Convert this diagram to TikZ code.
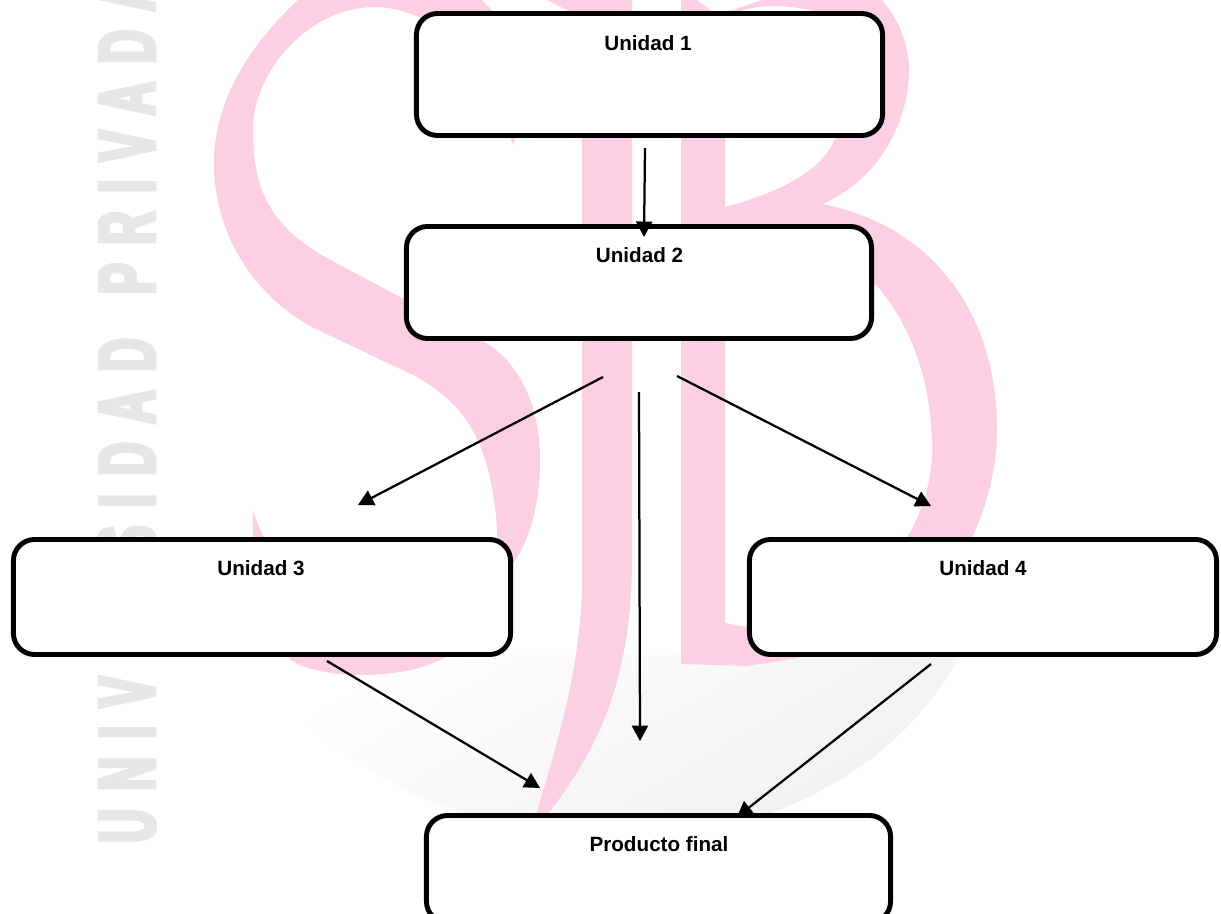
\documentclass[tikz,border=0pt]{standalone}
\usepackage{fontspec}
\setmainfont{Liberation Sans}
\newfontfamily\wmfont[LetterSpace=23,FakeStretch=0.58,FakeBold=4.5]{Liberation Sans Bold}
\usetikzlibrary{arrows.meta}
\definecolor{sjbpink}{HTML}{FDCFE3}
\definecolor{wmgrey}{HTML}{E6E7E8}
\definecolor{shadegrey}{HTML}{F0F0F1}
\tikzset{
  unidadbox/.style={draw, line width=3.5pt, rounded corners=15pt, fill=white, inner sep=0pt},
  boxlabel/.style={font=\fontsize{14.7}{16}\selectfont\bfseries, inner sep=0pt},
  flecha/.style={-{Triangle[length=11pt,width=11.5pt]}, line width=1.6pt}
}
\begin{document}
\begin{tikzpicture}[x=0.025cm, y=-0.025cm]
    \useasboundingbox (0,0) rectangle (1221,913);
    \fill[white] (0,0) rectangle (1221,913);

    % Grey shadow under the letters
    \shade[top color=white, middle color=white, bottom color=shadegrey, shading angle=30]
        (249,655) .. controls (300,740) and (450,850) .. (640,838)
        .. controls (800,830) and (910,750) .. (960,655) -- cycle;

    % S
    \fill[sjbpink] (298,0) .. controls (250,45) and (214,100) .. (214,163)
        .. controls (214,240) and (260,300) .. (314,328)
        -- (417,377) .. controls (465,405) and (490,440) .. (497,527)
        .. controls (500,600) and (480,640) .. (440,660)
        .. controls (400,680) and (320,680) .. (291,660)
        .. controls (270,620) and (250,570) .. (253,510)
        .. controls (258,525) and (262,535) .. (268,545)
        -- (330,640) -- (440,600)
        .. controls (520,600) and (540,520) .. (540,460)
        .. controls (540,400) and (515,360) .. (486,343)
        -- (325,257) .. controls (270,225) and (253,190) .. (253,130)
        .. controls (253,70) and (310,7) .. (375,7)
        .. controls (410,7) and (480,30) .. (513,145)
        -- (540,60) -- (482,0) -- cycle;

    % J
    \fill[sjbpink] (547,0) -- (582,18) -- (582,593)
        .. controls (578,680) and (555,750) .. (536,815)
        -- (547,815) .. controls (590,760) and (632,690) .. (632,560)
        -- (632,0) -- cycle;

    % B, with its two counters cut out
    \fill[sjbpink, even odd rule] (681,0) -- (697,0) -- (713,12) -- (733,10) -- (762,0) -- (882,0)
        .. controls (895,15) and (909,40) .. (909,70)
        .. controls (909,120) and (880,180) .. (822,204)
        .. controls (930,225) and (997,310) .. (997,430)
        .. controls (997,500) and (960,590) .. (900,620)
        -- (798,658) -- (747,666) -- (681,664) -- cycle
        (725,20) .. controls (740,8) and (760,6) .. (773,6)
        .. controls (810,6) and (872,20) .. (872,70)
        .. controls (872,100) and (850,130) .. (834,140)
        .. controls (825,165) and (790,190) .. (725,207) -- cycle
        (725,235) .. controls (800,235) and (850,260) .. (878,287)
        .. controls (910,325) and (932,380) .. (932,450)
        .. controls (932,520) and (880,620) .. (747,627)
        -- (725,623) -- cycle;

    % Grey lettering
    \node[rotate=90, anchor=west, inner sep=0pt, text=wmgrey,
          font=\wmfont\fontsize{57}{57}\selectfont] (marca) at (127,843) {UNIVERSIDAD\hspace{9pt} PRIVADA};

    % Boxes
    \node[unidadbox, minimum width=11.65cm, minimum height=3.05cm] (unidad1) at (649.5,74.5) {};
    \node[unidadbox, minimum width=11.625cm, minimum height=2.8cm] (unidad2) at (639,282.5) {};
    \node[unidadbox, minimum width=12.425cm, minimum height=2.875cm] (unidad3) at (262,597) {};
    \node[unidadbox, minimum width=11.675cm, minimum height=2.875cm] (unidad4) at (983,597) {};
    \node[unidadbox, minimum width=11.6cm, minimum height=2.675cm] (final) at (658.5,869) {};

    % Labels
    \node[boxlabel] (lab1) at (648,43) {Unidad 1};
    \node[boxlabel] (lab2) at (639.5,255) {Unidad 2};
    \node[boxlabel] (lab3) at (261,568) {Unidad 3};
    \node[boxlabel] (lab4) at (983,568) {Unidad 4};
    \node[boxlabel] (lab5) at (659,844) {Producto final};

    % Free ends of the arrows
    \coordinate (a1) at (645,148);
    \coordinate (b1) at (644,237);
    \coordinate (a2) at (603,377);
    \coordinate (b2) at (358,505);
    \coordinate (a3) at (639,392);
    \coordinate (b3) at (640,741);
    \coordinate (a4) at (677,376);
    \coordinate (b4) at (931,506);
    \coordinate (a5) at (327,661);
    \coordinate (b5) at (540,788);
    \coordinate (a6) at (931,664);
    \coordinate (b6) at (737,817);

    % Arrows
    \draw[flecha] (a1) -- (b1);
    \draw[flecha] (a2) -- (b2);
    \draw[flecha] (a3) -- (b3);
    \draw[flecha] (a4) -- (b4);
    \draw[flecha] (a5) -- (b5);
    \draw[flecha] (a6) -- (b6);
\end{tikzpicture}
\end{document}
